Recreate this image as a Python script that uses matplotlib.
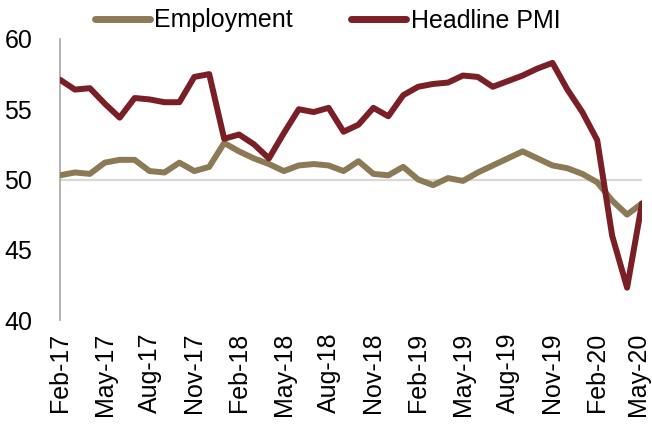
import matplotlib
matplotlib.use("Agg")
import matplotlib.pyplot as plt
import matplotlib.transforms as mtransforms

plt.rcParams['font.family'] = ['Liberation Sans', 'DejaVu Sans']

months = ["Feb-17", "Mar-17", "Apr-17", "May-17", "Jun-17", "Jul-17", "Aug-17", "Sep-17", "Oct-17", "Nov-17",
          "Dec-17", "Jan-18", "Feb-18", "Mar-18", "Apr-18", "May-18", "Jun-18", "Jul-18", "Aug-18", "Sep-18",
          "Oct-18", "Nov-18", "Dec-18", "Jan-19", "Feb-19", "Mar-19", "Apr-19", "May-19", "Jun-19", "Jul-19",
          "Aug-19", "Sep-19", "Oct-19", "Nov-19", "Dec-19", "Jan-20", "Feb-20", "Mar-20", "Apr-20", "May-20"]

employment = [50.3, 50.5, 50.4, 51.2, 51.4, 51.4, 50.6, 50.5, 51.2, 50.6,
              50.9, 52.6, 52.0, 51.5, 51.1, 50.6, 51.0, 51.1, 51.0, 50.6,
              51.3, 50.4, 50.3, 50.9, 50.0, 49.6, 50.1, 49.9, 50.5, 51.0,
              51.5, 52.0, 51.5, 51.0, 50.8, 50.4, 49.8, 48.5, 47.5, 48.3]

headline_pmi = [57.1, 56.4, 56.5, 55.4, 54.4, 55.8, 55.7, 55.5, 55.5, 57.3,
                57.5, 52.9, 53.2, 52.5, 51.5, 53.3, 55.0, 54.8, 55.1, 53.4,
                53.9, 55.1, 54.5, 56.0, 56.6, 56.8, 56.9, 57.4, 57.3, 56.6,
                57.0, 57.4, 57.9, 58.3, 56.4, 54.8, 52.8, 46.0, 42.3, 48.3]

yticks = [40, 45, 50, 55, 60]
ref_level = 50

emp_color = "#8C7A56"
pmi_color = "#7B1F27"

fig = plt.figure(figsize=(6.52, 4.25), dpi=100)
ax = fig.add_axes([60/652, 1 - 320/425, (642 - 60)/652, (320 - 39)/425])

x = list(range(len(months)))
ax.axhline(ref_level, color="#D9D9D9", lw=1.6, zorder=1)
ax.plot(x, employment, color=emp_color, lw=4.3, solid_joinstyle='round', solid_capstyle='round',
        label="Employment", zorder=3)
ax.plot(x, headline_pmi, color=pmi_color, lw=4.3, solid_joinstyle='round', solid_capstyle='round',
        label="Headline PMI", zorder=4)

ax.set_xlim(0, len(months) - 1)
ax.set_ylim(40, 60)
ax.set_yticks(yticks)
ax.set_yticklabels([str(v) for v in yticks], fontsize=18)
ax.set_xticks(x[::3])
ax.set_xticklabels(months[::3], rotation=90, fontsize=18)
ax.tick_params(axis='x', length=0, pad=9)
ax.tick_params(axis='y', length=0, pad=20)

last = ax.get_xticklabels()[-1]
last.set_transform(last.get_transform() + mtransforms.ScaledTranslation(-4/100, 0, fig.dpi_scale_trans))

for s in ['top', 'right', 'bottom']:
    ax.spines[s].set_visible(False)
ax.spines['left'].set_color("#A6A6A6")
ax.spines['left'].set_linewidth(1.2)

leg = fig.legend(loc='upper left', bbox_to_anchor=(92/652, 1 - 6/425), ncol=2, frameon=False,
                 fontsize=18, handlelength=2.2, handletextpad=0.2, columnspacing=2.3,
                 borderaxespad=0.0, borderpad=0.1)
for line in leg.get_lines():
    line.set_linewidth(5)

fig.savefig("out.png", dpi=100)
